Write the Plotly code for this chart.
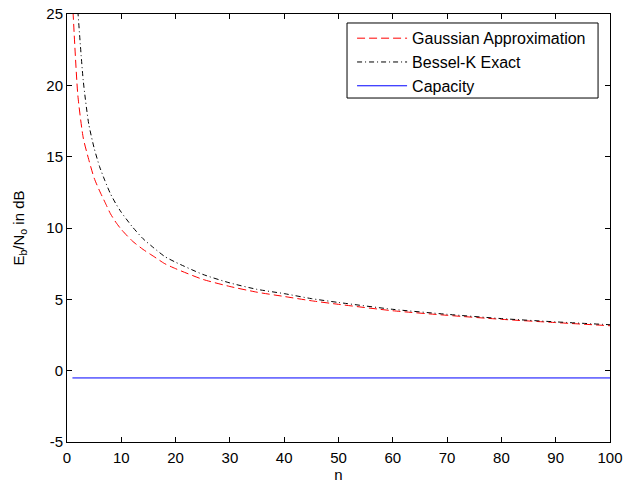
import plotly.graph_objects as go

# Data
n_gauss = [1, 2, 3, 4, 5, 6, 7, 8, 9, 10, 12, 14, 16, 18, 20, 25, 30, 35, 40, 45, 50, 60, 70, 80, 90, 100]
gauss_db = [26.0, 19.3, 16.3, 14.8, 13.5, 12.6, 11.8, 11.0, 10.4, 9.9, 9.1, 8.5, 8.0, 7.5, 7.15,
            6.4, 5.9, 5.5, 5.2, 4.9, 4.65, 4.2, 3.88, 3.6, 3.37, 3.15]

n_bessel = [2, 3, 4, 5, 6, 7, 8, 9, 10, 12, 14, 16, 18, 20, 25, 30, 35, 40, 45, 50, 60, 70, 80, 90, 100]
bessel_db = [25.2, 20.3, 17.3, 15.6, 14.3, 13.3, 12.4, 11.7, 11.1, 10.1, 9.25, 8.6, 8.0, 7.6,
             6.75, 6.15, 5.7, 5.4, 5.05, 4.78, 4.3, 3.95, 3.65, 3.42, 3.22]

n_cap = [1, 100]
cap_db = [-0.51, -0.51]

x_ticks = [0, 10, 20, 30, 40, 50, 60, 70, 80, 90, 100]
y_ticks = [-5, 0, 5, 10, 15, 20, 25]

FONT = "Liberation Sans, Arial, Helvetica, sans-serif"

fig = go.Figure()
fig.add_trace(go.Scatter(x=n_gauss, y=gauss_db, mode="lines", name="Gaussian Approximation",
                         line=dict(color="#ff0000", width=1, dash="8px,4px", shape="spline", smoothing=0.6)))
fig.add_trace(go.Scatter(x=n_bessel, y=bessel_db, mode="lines", name="Bessel-K Exact",
                         line=dict(color="#000000", width=1, dash="5px,3px,1px,3px", shape="spline", smoothing=0.6)))
fig.add_trace(go.Scatter(x=n_cap, y=cap_db, mode="lines", name="Capacity",
                         line=dict(color="#0000ff", width=1)))

axis_common = dict(
    showgrid=False, zeroline=False, showline=True, linecolor="black", linewidth=1,
    mirror="ticks", ticks="inside", ticklen=5, tickcolor="black", automargin=False,
    tickfont=dict(family=FONT, size=15, color="black"),
)

fig.update_xaxes(range=[0, 100], tickvals=x_ticks, ticktext=[str(v) for v in x_ticks],
                 ticklabelstandoff=2,
                 title=dict(text="n", font=dict(family=FONT, size=15, color="black"), standoff=0),
                 **axis_common)
fig.update_yaxes(range=[-5, 25], tickvals=y_ticks, ticktext=[str(v) for v in y_ticks],
                 title=dict(text="E<sub>b</sub>/N<sub>o</sub> in dB",
                            font=dict(family=FONT, size=15, color="black"), standoff=18),
                 **axis_common)

# legend frame (MATLAB-style box)
fig.add_shape(type="rect", xref="paper", yref="paper",
              x0=0.5157, x1=0.978, y0=0.8037, y1=0.979,
              line=dict(color="black", width=1), fillcolor="white", layer="above")

fig.update_layout(
    width=625, height=485,
    margin=dict(l=67, r=15, t=14, b=43),
    paper_bgcolor="white", plot_bgcolor="white",
    font=dict(family=FONT, size=15, color="black"),
    showlegend=True,
    legend=dict(x=0.525, y=0.983, xanchor="left", yanchor="top",
                bgcolor="rgba(0,0,0,0)", borderwidth=0,
                font=dict(family=FONT, size=16, color="black"),
                tracegroupgap=0, itemwidth=50),
)

fig.write_html("out.html", config={"displayModeBar": False},
               post_script="document.body.style.margin='0px';")
